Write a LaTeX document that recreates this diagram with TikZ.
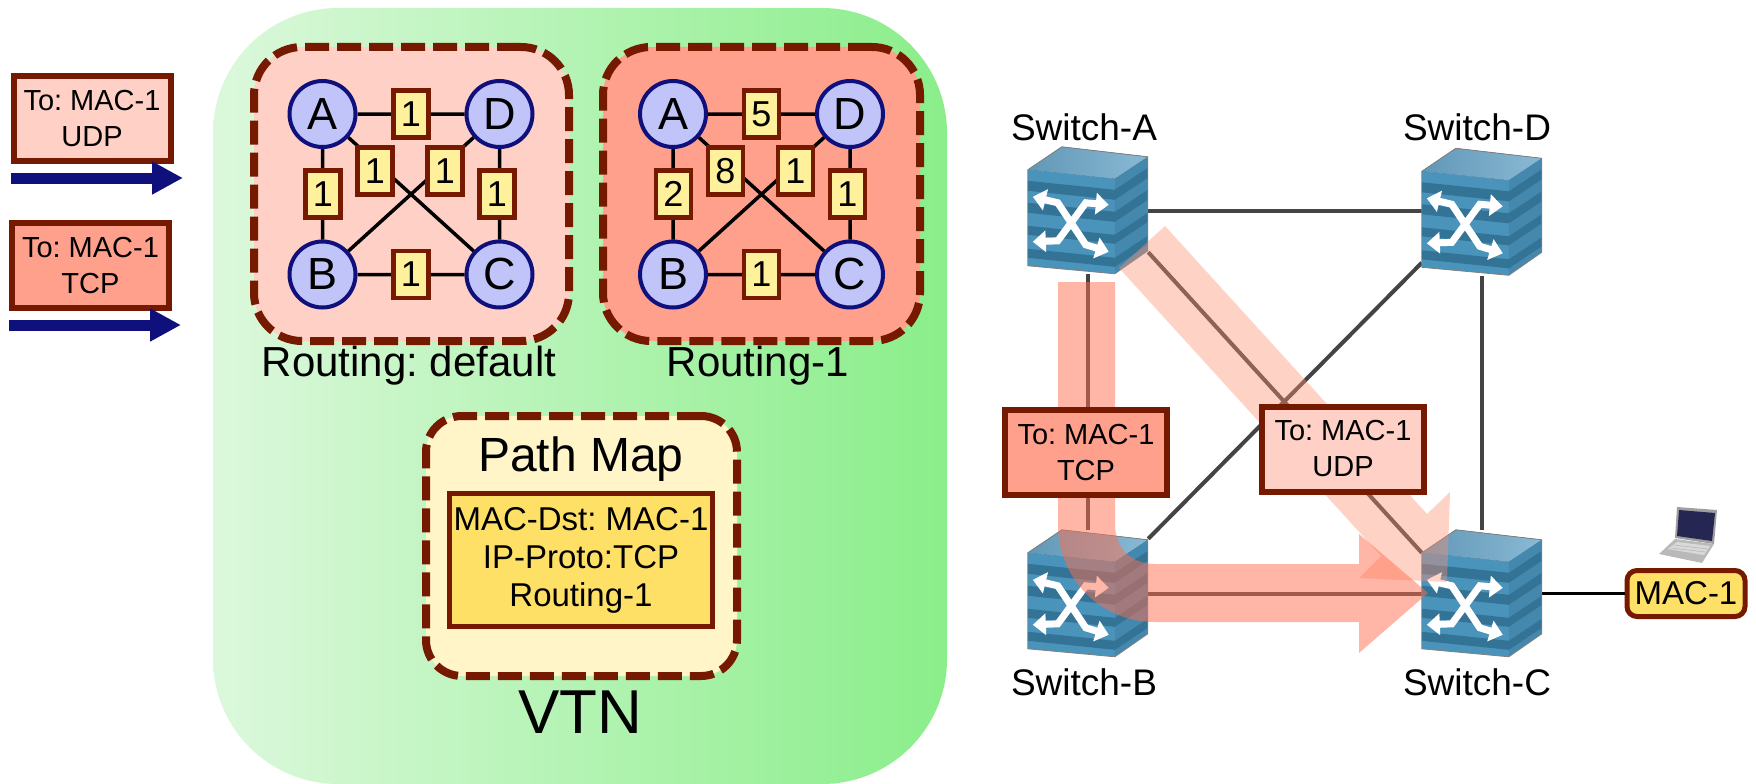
\documentclass[tikz,border=0pt]{standalone}
\usepackage{fontspec}
\setmainfont{Liberation Sans}
\usetikzlibrary{arrows.meta}
\definecolor{dkred}{HTML}{751A00}
\definecolor{navyc}{HTML}{10107C}
\definecolor{pinka}{HTML}{FFD0C5}
\definecolor{pinkb}{HTML}{FFA08C}
\definecolor{nodeb}{HTML}{C0C4F8}
\definecolor{lab}{HTML}{FFF09C}
\definecolor{ylw}{HTML}{FFE066}
\definecolor{cream}{HTML}{FFF5C8}
\definecolor{lnk}{HTML}{444444}
\definecolor{swtop}{HTML}{6CA8CA}
\definecolor{swfront}{HTML}{4A93BB}
\definecolor{swside}{HTML}{4588AE}
\definecolor{swdark}{HTML}{2F6D90}
\definecolor{vtnl}{HTML}{DCF8DC}
\definecolor{vtnr}{HTML}{8AEE8A}
\newcommand{\fs}[1]{\fontsize{#1}{#1}\selectfont}
\frenchspacing
\tikzset{
  pkt/.style={draw=dkred,line width=6pt,inner sep=0pt,minimum width=157pt,minimum height=85pt,align=center,font=\fs{29}},
  panel/.style={draw=dkred,line width=8pt,dash pattern=on 24pt off 8pt,rounded corners=48pt,inner sep=0pt},
  rnode/.style={circle,draw=navyc,fill=nodeb,line width=4pt,minimum size=66pt,inner sep=0pt,font=\fs{45}},
  rlab/.style={draw=dkred,fill=lab,line width=4.5pt,minimum width=35pt,minimum height=47pt,inner sep=0pt,font=\fs{36}},
  redge/.style={draw=black,line width=3.5pt},
  captext/.style={font=\fs{42}},
  swlab/.style={font=\fs{37}},
  swbox/.style={inner sep=0pt,minimum width=120pt,minimum height=127pt},
  lnkl/.style={draw=lnk,line width=4pt},
  bandu/.style={fill={rgb,255:red,255;green,143;blue,112},fill opacity=.4},
  bandt/.style={fill={rgb,255:red,255;green,110;blue,80},fill opacity=.5},
  sendarrow/.style={draw=navyc,line width=11pt,-{Triangle[length=31pt,width=31pt]}},
  whitex/.style={draw=white,line width=7pt,{Triangle[length=13pt,width=21pt]}-{Triangle[length=13pt,width=21pt]}},
}
\newcommand{\swcube}[1]{%
  \begin{scope}[shift={(#1.north west)}]
    \fill[left color=swtop!90!black,right color=swtop!80!white] (0,23)--(34,0)--(120,10)--(87,32)--cycle;
    \fill[swfront] (0,23)--(87,32)--(87,127)--(0,119)--cycle;
    \fill[swside] (87,32)--(120,10)--(120,104)--(87,127)--cycle;
    \foreach \a/\b in {11/21,33/43,56/65,79/88}{
      \fill[swdark!85!swfront] (0,23+\a)--(87,32+\a)--(87,32+\b)--(0,23+\b)--cycle;
      \fill[swdark!85!swfront] (87,32+\a)--(120,10+\a)--(120,10+\b)--(87,32+\b)--cycle;
    }
    \draw[gray,line width=.8pt] (0,23)--(34,0)--(120,10)--(120,104)--(87,127)--(0,119)--cycle;
    \draw[whitex,line join=miter] (5,50)--(30,56)--(58,98)--(81,105);
    \draw[whitex,line join=miter] (5,95)--(30,94)--(58,56)--(81,58);
  \end{scope}}
% routing graph: x-offset, prefix, six labels
\newcommand{\routing}[8]{%
  \begin{scope}[shift={(#1,0)}]
    \node[rnode] (#2A) at (322.5,114) {A};
    \node[rnode] (#2D) at (499.5,114) {D};
    \node[rnode] (#2B) at (322.5,274.5) {B};
    \node[rnode] (#2C) at (499.5,274.5) {C};
    \draw[redge] (#2A)--(#2D) (#2A)--(#2B) (#2A)--(#2C) (#2D)--(#2B) (#2D)--(#2C) (#2B)--(#2C);
    \node[rlab] (#2l1) at (411,114) {#3};
    \node[rlab] (#2l2) at (323,194) {#4};
    \node[rlab] (#2l3) at (375,171) {#5};
    \node[rlab] (#2l4) at (445,171) {#6};
    \node[rlab] (#2l5) at (497,194) {#7};
    \node[rlab] (#2l6) at (411,274.5) {#8};
  \end{scope}}
\begin{document}
\begin{tikzpicture}[x=1pt,y=-1pt]
\useasboundingbox (0,0) rectangle (1756,784);
% VTN
\node[inner sep=0pt,minimum width=734pt,minimum height=776pt,rounded corners=125pt,left color=vtnl,right color=vtnr,shade] (vtn) at (580,396) {};
\node[font=\fs{62}] (vtnt) at (580,712) {VTN};
% packets
\node[pkt,fill=pinka] (p1) at (92,118.5) {To: MAC-1\\[7pt]UDP};
\node[pkt,fill=pinkb] (p2) at (90.5,265.5) {To: MAC-1\\[7pt]TCP};
\coordinate (a1s) at (11,178); \coordinate (a1e) at (183,178);
\coordinate (a2s) at (9,325); \coordinate (a2e) at (181,325);
\draw[sendarrow] (a1s)--(a1e);
\draw[sendarrow] (a2s)--(a2e);
% panels
\node[panel,fill=pinka,minimum width=315pt,minimum height=294pt] (pd) at (411.5,194) {};
\node[panel,fill=pinkb,minimum width=317pt,minimum height=294pt] (pr) at (761.5,194) {};
\routing{0}{d}{1}{1}{1}{1}{1}{1}
\routing{350.5}{r}{5}{2}{8}{1}{1}{1}
\node[captext] (cd) at (409,366) {Routing: default};
\node[captext] (cr) at (758,366) {Routing-1};
% path map
\node[panel,rounded corners=36pt,fill=cream,minimum width=311pt,minimum height=260pt] (pm) at (581.5,546) {};
\node[font=\fs{48}] (pmt) at (581,459) {Path Map};
\node[draw=dkred,fill=ylw,line width=5pt,inner sep=0pt,minimum width=263pt,minimum height=133pt,align=center,font=\fs{33}] (pmi) at (581,560) {MAC-Dst: MAC-1\\[5pt]IP-Proto:TCP\\[5pt]Routing-1};
% switches
\node[swbox] (swA) at (1088,210.5) {};
\node[swbox] (swD) at (1482,212) {};
\node[swbox] (swB) at (1088,593.5) {};
\node[swbox] (swC) at (1482,593.5) {};
\node[draw=dkred,fill=ylw,line width=5pt,rounded corners=10pt,inner sep=0pt,minimum width=118pt,minimum height=46pt,font=\fs{33}] (mac) at (1686,593.5) {MAC-1};
\draw[lnkl] (swA)--(swA-|swD);
\draw[lnkl] (swA)--(swB);
\draw[lnkl] (swD)--(swC);
\draw[lnkl] (swB)--(swC);
\draw[lnkl] ([yshift=22pt]swA.south east)--([yshift=-23pt]swC.north west);
\draw[lnkl] ([yshift=13pt]swD.south west)--([yshift=-9pt]swB.north east);
\draw[draw=black,line width=3pt] (swC)--(mac);
\swcube{swA}\swcube{swD}\swcube{swB}\swcube{swC}
% laptop
\fill[gray!75] (1677,507)--(1717,510)--(1714,544)--(1675,538)--cycle;
\fill[black!80!blue!85!white] (1679,510)--(1715,513)--(1712,541)--(1677,536)--cycle;
\fill[gray!55] (1675,539)--(1714,544)--(1702,563)--(1659,554)--cycle;
\fill[gray!30] (1677,542)--(1710,546)--(1704,555)--(1668,549)--cycle;
\draw[gray!60,line width=.5pt] (1674,545)--(1708,549) (1671,548)--(1705,552);
% bands
\coordinate (u1) at (1165,226);\coordinate (u2) at (1427,514);\coordinate (u3) at (1450,492);
\coordinate (u4) at (1447,582);\coordinate (u5) at (1359,578);\coordinate (u6) at (1381,556);\coordinate (u7) at (1119,268);
\fill[bandu] (u1)--(u2)--(u3)--(u4)--(u5)--(u6)--(u7)--cycle;
\fill[bandt] (1058,282)--(1115,282)--(1115,524) .. controls (1115,548) and (1131,564) .. (1155,564)
  --(1359,564)--(1359,534)--(1428,593)--(1359,653)--(1359,622)--(1155,622)
  .. controls (1101,622) and (1058,579) .. (1058,525)--cycle;
% in-flight packets
\node[pkt,fill=pinkb,minimum width=162pt] (t1) at (1086,452.5) {To: MAC-1\\[7pt]TCP};
\node[pkt,fill=pinka,minimum width=162pt] (t2) at (1343,449) {To: MAC-1\\[7pt]UDP};
\node[swlab] (la) at (1084,127) {Switch-A};
\node[swlab] (ld) at (1477,127) {Switch-D};
\node[swlab] (lb) at (1084,682) {Switch-B};
\node[swlab] (lc) at (1477,682) {Switch-C};
\end{tikzpicture}
\end{document}
